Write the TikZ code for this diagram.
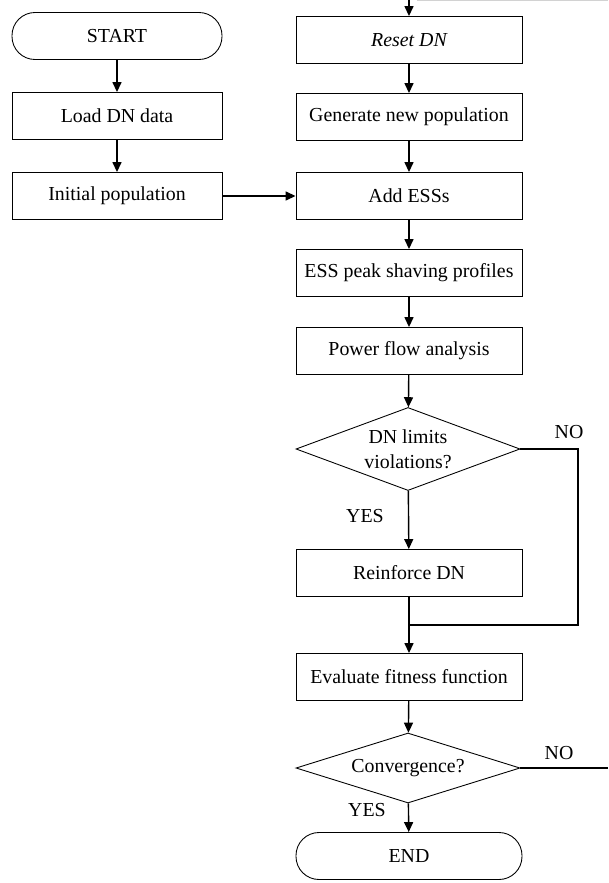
\documentclass[tikz,border=0pt]{standalone}
\usepackage{fontspec}
\setmainfont{Liberation Serif}
\usetikzlibrary{shapes.geometric,arrows.meta}
\tikzset{
  txt/.style={font=\fontsize{11.3}{14}\selectfont},
  leftbox/.style={txt,draw,rectangle,minimum width=4.2cm,minimum height=0.94cm,inner sep=0pt,line width=0.5pt},
  rightbox/.style={leftbox,minimum width=4.52cm},
  termbox/.style={rightbox,rounded corners=4.6mm},
  decide/.style={txt,draw,diamond,align=center,inner sep=0pt,aspect=2.7,minimum width=4.48cm,line width=0.5pt},
  arr/.style={line width=0.8pt,-{Triangle[length=2mm,width=1.8mm]}},
  conn/.style={line width=0.8pt},
}
\begin{document}
\begin{tikzpicture}[x=0.2mm,y=-0.2mm]
    \useasboundingbox (0,0) rectangle (608,883);
    %% Left column
    \node[leftbox,rounded corners=4.6mm] (start) at (117,36) {START};
    \node[leftbox] (load) at (117,116) {Load DN data};
    \node[leftbox] (init) at (117,196) {Initial population};
    %% Right column
    \node[rightbox] (reset) at (409,40) {\itshape Reset DN};
    \node[rightbox] (newpop) at (409,117) {Generate new population};
    \node[rightbox] (addess) at (409,196) {Add ESSs};
    \node[rightbox] (peak) at (409,273) {ESS peak shaving profiles};
    \node[rightbox] (pflow) at (409,351) {Power flow analysis};
    \node[decide,minimum height=1.66cm] (limits) at (408,449) {DN limits\\violations?};
    \node[rightbox] (reinf) at (409,573) {Reinforce DN};
    \node[rightbox] (fitness) at (409,677) {Evaluate fitness function};
    \node[decide,minimum height=1.4cm] (conv) at (408,768) {Convergence?};
    \node[termbox] (finish) at (409,856) {END};
    %% Free ends
    \coordinate (loopin) at (409,0);
    \coordinate (merge) at (409,625);
    \coordinate (noright) at (578,625);
    \coordinate (loopout) at (608,768);
    \draw[gray!35,line width=0.4pt] (417,0.5) -- (608,0.5);
    %% Connectors
    \draw[arr] (loopin) -- (reset);
    \draw[arr] (start) -- (load);
    \draw[arr] (load) -- (init);
    \draw[arr] (init) -- (addess);
    \draw[arr] (reset) -- (newpop);
    \draw[arr] (newpop) -- (addess);
    \draw[arr] (addess) -- (peak);
    \draw[arr] (peak) -- (pflow);
    \draw[arr] (pflow) -- (limits);
    \draw[arr] (limits) -- (reinf);
    \draw[conn] (limits.east) -| (noright) -- (merge);
    \draw[conn] (reinf) -- (merge);
    \draw[arr] (merge) -- (fitness);
    \draw[arr] (fitness) -- (conv);
    \draw[arr] (conv) -- (finish);
    \draw[conn] (conv.east) -- (loopout);
    %% Labels
    \node[txt] (nolim) at (569,432) {NO};
    \node[txt] (yeslim) at (365,516) {YES};
    \node[txt] (noconv) at (559,753) {NO};
    \node[txt] (yesconv) at (367,810) {YES};
\end{tikzpicture}
\end{document}
